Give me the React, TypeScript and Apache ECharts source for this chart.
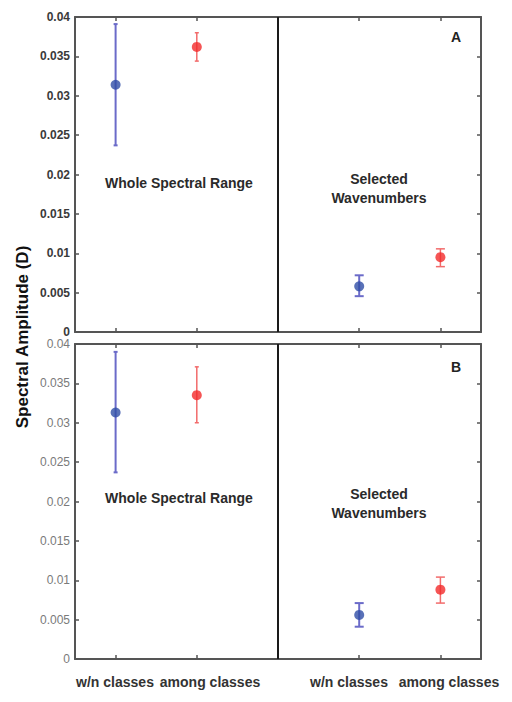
import React, { useEffect, useRef } from "react";
import * as echarts from "echarts";

// ---------- data ----------
const groupLabels = ["w/n classes", "among classes", "w/n classes", "among classes"];
const rangeLabels = ["Whole Spectral Range", "Selected\nWavenumbers"];
const panelNames = ["A", "B"];
const xPositions = [1, 3, 7, 9]; // whole: w/n, among | selected: w/n, among
const colorIndex = [0, 1, 0, 1];

// Panel A
const meanA = [0.0314, 0.0362, 0.0058, 0.0095];
const lowA = [0.0237, 0.0344, 0.00455, 0.0083];
const highA = [0.0391, 0.038, 0.0072, 0.01056];
// Panel B
const meanB = [0.0313, 0.0335, 0.0056, 0.0088];
const lowB = [0.0237, 0.03, 0.0041, 0.0071];
const highB = [0.039, 0.0371, 0.0071, 0.0104];

const yMin = 0;
const yMax = 0.04;
const yStep = 0.005;
const xMin = 0;
const xMax = 10;
const dividerX = 5;

// ---------- style ----------
const FONT = '"Liberation Sans", Arial, sans-serif';
const markerColors = ["#2f4ea6", "#f22a2a"];
const barColors = ["#6b6bc9", "#f26b6b"];
const barWidths = [2, 1.5];
const axisColor = "#555";

const grids = [
  { left: 75, top: 17, width: 406, height: 315 },
  { left: 75, top: 344, width: 406, height: 315 },
];

export default function App() {
  const ref = useRef<HTMLDivElement>(null);

  useEffect(() => {
    if (!ref.current) return;
    const chart = echarts.init(ref.current, null, { renderer: "svg" });

    const panels = [
      { mean: meanA, low: lowA, high: highA },
      { mean: meanB, low: lowB, high: highB },
    ];

    const xAxes: any[] = [];
    const yAxes: any[] = [];
    panels.forEach((_, i) => {
      ["bottom", "top"].forEach((pos) => {
        xAxes.push({
          type: "value",
          gridIndex: i,
          position: pos,
          min: xMin,
          max: xMax,
          axisLine: { show: true, onZero: false, lineStyle: { color: axisColor, width: 2 } },
          axisTick: { show: true, inside: true, length: 4, customValues: xPositions, lineStyle: { color: axisColor, width: 1.5 } },
          axisLabel: { show: false },
          splitLine: { show: false },
        });
      });
      ["left", "right"].forEach((pos) => {
        yAxes.push({
          type: "value",
          gridIndex: i,
          position: pos,
          min: yMin,
          max: yMax,
          interval: yStep,
          axisLine: { show: true, onZero: false, lineStyle: { color: axisColor, width: 2 } },
          axisTick: { show: true, inside: true, length: 4, lineStyle: { color: axisColor, width: 1.5 } },
          axisLabel: {
            show: pos === "left",
            margin: 5,
            fontFamily: FONT,
            fontSize: 12,
            fontWeight: i === 0 ? "bold" : "normal",
            color: i === 0 ? "#3a3a3a" : "#7a7a7a",
            formatter: (v: number) => String(Math.round(v * 1000) / 1000),
          },
          splitLine: { show: false },
        });
      });
    });

    const series: any[] = [];
    panels.forEach((p, i) => {
      [0, 1].forEach((c) => {
        const idx = xPositions.map((_, k) => k).filter((k) => colorIndex[k] === c);
        const errData = idx.map((k) => [xPositions[k], p.low[k], p.high[k], k < 2 ? 2 : 4.5]);
        series.push({
          type: "custom",
          xAxisIndex: i * 2,
          yAxisIndex: i * 2,
          data: errData,
          z: 3,
          renderItem: (params: any, api: any) => {
            const x = api.value(0);
            const lo = api.coord([x, api.value(1)]);
            const hi = api.coord([x, api.value(2)]);
            const cap = api.value(3);
            const st = { stroke: barColors[c], lineWidth: barWidths[c] };
            return {
              type: "group",
              children: [
                { type: "line", shape: { x1: lo[0], y1: lo[1], x2: hi[0], y2: hi[1] }, style: st },
                { type: "line", shape: { x1: lo[0] - cap, y1: lo[1], x2: lo[0] + cap, y2: lo[1] }, style: st },
                { type: "line", shape: { x1: hi[0] - cap, y1: hi[1], x2: hi[0] + cap, y2: hi[1] }, style: st },
              ],
            };
          },
        });
        series.push({
          type: "scatter",
          xAxisIndex: i * 2,
          yAxisIndex: i * 2,
          symbol: "circle",
          symbolSize: 10,
          z: 4,
          itemStyle: { color: markerColors[c] },
          data: idx.map((k) => [xPositions[k], p.mean[k]]),
          markLine:
            c === 0
              ? {
                  silent: true,
                  symbol: ["none", "none"],
                  label: { show: false },
                  lineStyle: { color: "#1a1a1a", width: 2, type: "solid" },
                  data: [[{ coord: [dividerX, yMin] }, { coord: [dividerX, yMax] }]],
                }
              : undefined,
        });
      });
    });

    const textStyle = (size: number, weight: string, color: string) => ({
      font: `${weight} ${size}px ${FONT}`,
      fill: color,
      align: "center",
      verticalAlign: "middle",
    });

    const graphic: any[] = [
      {
        type: "text",
        x: 22,
        y: 337,
        rotation: Math.PI / 2,
        style: { text: "Spectral Amplitude (D)", ...textStyle(17, "bold", "#111") },
      },
    ];
    const wholeY = [183, 498];
    const selY = [188, 503];
    const letterY = [37, 367];
    panelNames.forEach((n, i) => {
      graphic.push({ type: "text", x: 179, y: wholeY[i], style: { text: rangeLabels[0], ...textStyle(14, "bold", "#2a2a2a") } });
      graphic.push({ type: "text", x: 379, y: selY[i], style: { text: rangeLabels[1], lineHeight: 19, ...textStyle(14, "bold", "#2a2a2a") } });
      graphic.push({ type: "text", x: 456, y: letterY[i], style: { text: n, ...textStyle(14, "bold", "#222") } });
    });
    const labelX = [115, 210, 349, 449];
    groupLabels.forEach((g, k) => {
      graphic.push({ type: "text", x: labelX[k], y: 682, style: { text: g, ...textStyle(14, "bold", "#333") } });
    });

    chart.setOption({
      animation: false,
      backgroundColor: "#fff",
      grid: grids,
      xAxis: xAxes,
      yAxis: yAxes,
      series,
      graphic,
    });

    return () => chart.dispose();
  }, []);

  return <div ref={ref} style={{ position: "absolute", left: 0, top: 0, width: 512, height: 702 }} />;
}
